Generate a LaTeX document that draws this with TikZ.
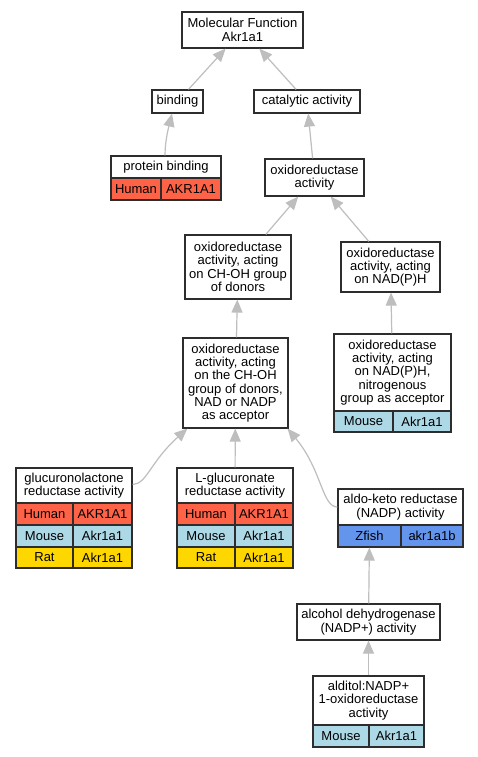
\documentclass[tikz,border=0pt]{standalone}
\usepackage{fontspec}
\setmainfont{Liberation Sans}
\usetikzlibrary{arrows.meta,calc}
\definecolor{hum}{RGB}{255,99,71}
\definecolor{mou}{RGB}{173,216,230}
\definecolor{rat}{RGB}{255,215,0}
\definecolor{zf}{RGB}{100,149,237}
\definecolor{edgegray}{RGB}{190,190,190}
\definecolor{boxline}{RGB}{45,45,45}
\begin{document}
\begin{tikzpicture}[x=1pt,y=-1pt,
  box/.style={draw=boxline, line width=1.2pt, fill=white, inner sep=0pt, align=center,
    font=\fontsize{13}{13.3}\selectfont},
  sz/.style 2 args={minimum width=#1pt, minimum height=#2pt},
  humc/.style={box, fill=hum},
  mouc/.style={box, fill=mou},
  ratc/.style={box, fill=rat},
  zfc/.style={box, fill=zf},
  edge/.style={draw=edgegray, line width=1.2pt, -{Triangle[length=13pt,width=11pt]}}
]
\fill[white] (0,0) rectangle (477,757);
\useasboundingbox (0,0) rectangle (477,757);

% nodes
\node[box,sz={121}{36}] (mf) at (242.5,30) {Molecular Function\\Akr1a1};
\node[box,sz={51}{23}] (bind) at (177.5,101.5) {binding};
\node[box,sz={106}{23}] (cat) at (307,101.5) {catalytic activity};

\node[box,sz={110}{22}] (pb) at (166,167) {protein binding};
\node[humc,sz={50}{22}] (pb1) at (136,189) {Human};
\node[humc,sz={60}{22}] (pb2) at (191,189) {AKR1A1};

\node[box,sz={99}{37}] (ox) at (314.5,177.5) {oxidoreductase\\activity};
\node[box,sz={106}{64}] (choh) at (238,267) {oxidoreductase\\activity, acting\\on CH-OH group\\of donors};
\node[box,sz={99}{50}] (nadph) at (390.5,267) {oxidoreductase\\activity, acting\\on NAD(P)H};
\node[box,sz={105}{90}] (cnad) at (235.5,383) {oxidoreductase\\activity, acting\\on the CH-OH\\group of donors,\\NAD or NADP\\as acceptor};

\node[box,sz={117}{77}] (nitro) at (392.5,372.5) {oxidoreductase\\activity, acting\\on NAD(P)H,\\nitrogenous\\group as acceptor};
\node[mouc,sz={59}{21}] (nitro1) at (363.5,421.5) {Mouse};
\node[mouc,sz={58}{21}] (nitro2) at (422,421.5) {Akr1a1};

\node[box,sz={116}{35}] (gl) at (74,485.5) {glucuronolactone\\reductase activity};
\node[humc,sz={57}{22}] (gl1) at (44.5,514) {Human};
\node[humc,sz={59}{22}] (gl2) at (102.5,514) {AKR1A1};
\node[mouc,sz={57}{22}] (gl3) at (44.5,536) {Mouse};
\node[mouc,sz={59}{22}] (gl4) at (102.5,536) {Akr1a1};
\node[ratc,sz={57}{21}] (gl5) at (44.5,557.5) {Rat};
\node[ratc,sz={59}{21}] (gl6) at (102.5,557.5) {Akr1a1};

\node[box,sz={116}{35}] (lg) at (235,485.5) {L-glucuronate\\reductase activity};
\node[humc,sz={58}{22}] (lg1) at (206,514) {Human};
\node[humc,sz={58}{22}] (lg2) at (264,514) {AKR1A1};
\node[mouc,sz={58}{22}] (lg3) at (206,536) {Mouse};
\node[mouc,sz={58}{22}] (lg4) at (264,536) {Akr1a1};
\node[ratc,sz={58}{21}] (lg5) at (206,557.5) {Rat};
\node[ratc,sz={58}{21}] (lg6) at (264,557.5) {Akr1a1};

\node[box,sz={125}{36}] (ak) at (400.5,507) {aldo-keto reductase\\(NADP) activity};
\node[zfc,sz={63}{22}] (ak1) at (369.5,536) {Zfish};
\node[zfc,sz={62}{22}] (ak2) at (432,536) {akr1a1b};

\node[box,sz={143}{36}] (alc) at (368.5,622) {alcohol dehydrogenase\\(NADP+) activity};

\node[box,sz={111}{49}] (ald) at (368.5,700.5) {alditol:NADP+\\1-oxidoreductase\\activity};
\node[mouc,sz={56}{22}] (ald1) at (341,736) {Mouse};
\node[mouc,sz={55}{22}] (ald2) at (396.5,736) {Akr1a1};

% edges
\draw[edge] (bind) -- (mf);
\draw[edge] (cat) -- (mf);
\draw[edge] ($(pb.north)+(-1,0)$) .. controls (165,140) and (169,126) .. ($(bind.south)+(-5.5,0)$);
\draw[edge] (ox) -- (cat);
\draw[edge] (choh) -- (ox);
\draw[edge] (nadph) -- (ox);
\draw[edge] (cnad) -- (choh);
\draw[edge] (nitro) -- (nadph);
\draw[edge] ($(gl.east)+(0,-1)$) .. controls (147,484) and (150,462) .. ($(cnad.south west)+(5,0)$);
\draw[edge] (lg) -- (cnad);
\draw[edge] (ak.west) .. controls (322,507) and (322,470) .. ($(cnad.south east)+(-1,0)$);
\draw[edge] (alc) -- (ak1);
\draw[edge] (ald) -- (alc);
\end{tikzpicture}
\end{document}
